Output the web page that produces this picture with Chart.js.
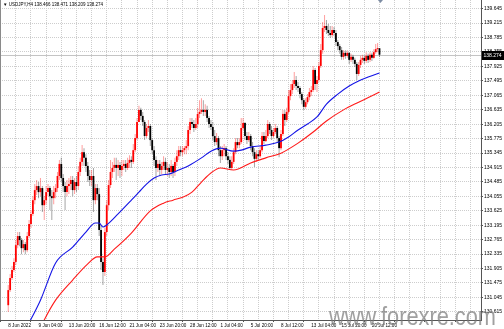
<!DOCTYPE html>
<html><head><meta charset="utf-8">
<script src="https://cdn.jsdelivr.net/npm/chart.js@4.4.0/dist/chart.umd.min.js"></script>
<style>html,body{margin:0;padding:0;background:#fff;overflow:hidden}#wrap{width:504px;height:329px;position:relative}</style>
</head><body><div id="wrap"><canvas id="c" width="504" height="329"></canvas></div>
<script>
// ---- data (USDJPY H4) ----
const symbol = 'USDJPY,H4';
const firstOpen = 130.81;
const close = [
131.26,131.62,131.86,132.10,132.60,132.87,132.75,132.51,132.63,132.45,
132.87,133.23,133.53,133.94,134.24,134.36,134.18,134.30,133.79,133.94,
134.18,134.30,134.06,134.00,134.18,134.30,134.66,135.02,134.60,134.36,
134.18,134.36,134.42,134.54,134.24,134.48,134.36,134.78,135.08,135.37,
135.20,134.96,134.66,134.54,134.66,133.94,134.30,134.12,133.05,132.10,
131.80,132.99,133.79,134.39,134.78,134.90,134.99,134.90,134.99,134.84,
134.96,135.02,134.90,135.05,135.14,135.08,135.43,135.79,136.27,136.63,
136.45,136.27,135.85,136.09,136.15,135.73,135.43,135.14,134.90,135.02,
134.84,134.96,135.08,134.84,134.90,134.78,134.96,134.78,135.08,135.25,
135.43,135.37,135.43,135.49,135.55,136.03,136.27,136.21,136.09,136.21,
136.51,136.57,136.63,136.57,136.63,136.39,136.21,136.12,135.85,135.67,
135.79,135.43,135.25,135.43,135.49,135.25,135.14,134.90,135.08,135.37,
135.67,135.58,135.67,136.09,136.24,135.85,135.73,135.85,135.55,135.37,
135.17,135.31,135.25,135.43,135.85,135.70,135.85,136.21,136.03,135.85,
135.97,136.09,135.79,135.49,135.91,136.51,136.33,136.57,137.04,137.22,
137.40,137.52,137.34,137.28,137.10,136.92,136.72,136.86,137.01,137.16,
137.22,137.82,137.40,137.52,137.94,138.41,139.07,139.13,139.01,138.92,
138.86,139.01,138.92,138.65,138.53,138.41,138.21,138.33,138.24,138.33,
138.12,138.21,138.12,138.00,137.70,137.97,138.12,138.18,138.09,138.24,
138.12,138.27,138.18,138.35,138.44,138.466,138.274];
const high = [
131.41,131.74,131.98,132.21,132.75,132.99,132.99,132.81,132.75,132.69,
132.99,133.35,133.65,134.06,134.42,134.54,134.48,134.60,134.36,134.06,
134.36,134.42,134.36,134.24,134.36,134.42,134.78,135.14,135.20,134.72,
134.48,134.54,134.60,134.66,134.66,134.60,134.66,134.96,135.20,135.58,
135.49,135.31,135.08,134.84,134.84,134.90,134.42,134.42,134.30,133.17,
132.21,133.11,133.94,134.54,135.14,135.08,135.20,135.20,135.14,135.08,
135.14,135.14,135.14,135.20,135.28,135.25,135.61,135.91,136.39,136.75,
136.69,136.57,136.33,136.21,136.33,136.21,135.79,135.55,135.25,135.14,
135.14,135.08,135.25,135.20,135.08,135.02,135.14,135.02,135.20,135.43,
135.55,135.55,135.55,135.55,135.73,136.15,136.39,136.39,136.33,136.39,
136.69,136.92,136.98,136.92,136.80,136.75,136.45,136.33,136.27,136.03,
135.94,135.85,135.55,135.55,135.61,135.55,135.37,135.25,135.25,135.49,
135.79,135.79,135.79,136.39,136.39,136.27,135.97,135.97,135.91,135.67,
135.49,135.43,135.43,135.55,135.97,135.97,136.03,136.33,136.27,136.15,
136.09,136.21,136.15,135.85,136.03,136.63,136.63,136.69,137.22,137.40,
137.52,137.76,137.64,137.46,137.34,137.16,136.98,136.98,137.10,137.28,
137.34,137.94,137.88,137.64,138.06,138.59,139.25,139.46,139.31,139.19,
139.13,139.13,139.10,139.01,138.71,138.59,138.50,138.41,138.41,138.41,
138.35,138.30,138.27,138.18,138.06,138.06,138.24,138.27,138.24,138.35,
138.30,138.35,138.33,138.44,138.59,138.62,138.471];
const low = [
130.61,131.20,131.56,131.80,132.01,132.51,132.57,132.33,132.39,132.33,
132.39,132.81,133.11,133.47,133.82,134.09,134.00,134.06,133.59,133.35,
133.82,134.06,133.65,133.35,133.82,134.00,134.18,134.54,134.48,134.18,
133.65,134.06,134.12,134.24,134.06,134.12,134.18,134.24,134.66,134.96,
134.96,134.78,134.48,134.36,134.36,133.59,133.82,133.94,132.87,131.86,
131.41,131.68,132.87,133.65,134.30,134.60,134.78,134.54,134.66,134.60,
134.66,134.84,134.78,134.84,134.90,134.90,135.02,135.37,135.73,136.27,
136.33,136.15,135.73,135.79,135.97,135.55,135.31,134.96,134.54,134.78,
134.66,134.72,134.84,134.72,134.66,134.60,134.66,134.60,134.66,134.96,
135.14,135.25,135.25,135.31,135.31,135.43,135.91,136.09,135.97,136.03,
136.09,136.39,136.51,136.45,136.45,136.27,136.09,136.03,135.73,135.55,
135.58,135.25,135.05,135.14,135.25,135.14,135.02,134.84,134.84,135.02,
135.31,135.49,135.49,135.61,136.03,135.73,135.61,135.67,135.43,135.25,
134.93,135.08,135.14,135.20,135.37,135.61,135.67,135.79,135.91,135.73,
135.79,135.91,135.67,135.22,135.43,135.85,136.15,136.27,136.51,136.92,
137.10,137.28,137.22,137.16,136.98,136.80,136.63,136.66,136.80,136.92,
137.04,137.16,137.22,137.16,137.46,137.88,138.30,138.95,138.89,138.83,
138.77,138.80,138.83,138.53,138.41,138.30,138.12,138.12,138.15,138.18,
138.00,138.06,138.00,137.91,137.52,137.64,137.88,138.03,138.00,138.03,
138.03,138.06,138.09,138.15,138.30,138.35,138.209];
// moving averages (bar index, value)
const maBlueBars = [9,17,25,34,41,46,48,50,52,58,65,69,73,77,81,85,90,95,102,107,112,119,123,128,136,143,148,153,158,163,168,174,180,185,196];
const maBlue = [130.07,130.96,132.07,132.54,132.99,133.26,133.26,133.14,133.20,133.53,133.94,134.18,134.42,134.60,134.69,134.72,134.84,134.96,135.20,135.40,135.49,135.40,135.43,135.52,135.58,135.67,135.82,136.03,136.21,136.42,136.80,137.10,137.34,137.49,137.73];
const maRedBars = [17,19,25,34,42,47,51,56,65,75,82,87,93,97,102,107,112,119,128,136,144,153,161,168,177,185,196];
const maRed = [130.13,130.37,130.96,131.56,132.04,132.25,132.25,132.48,132.96,133.62,133.85,133.94,134.05,134.18,134.48,134.75,134.90,134.84,135.05,135.20,135.34,135.64,135.97,136.30,136.63,136.86,137.16];
// axis labels
const xTickLabels = ['8 Jun 2022','9 Jun 04:00','13 Jun 20:00','16 Jun 12:00','21 Jun 04:00','23 Jun 20:00','28 Jun 12:00','1 Jul 04:00','5 Jul 20:00','8 Jul 12:00','13 Jul 04:00','15 Jul 20:00','20 Jul 12:00'];
const yTickLabels = ['130.615','131.045','131.475','131.905','132.335','132.765','133.195','133.625','134.055','134.485','134.915','135.345','135.775','136.205','136.635','137.065','137.495','137.925','138.355','138.785','139.215','139.645'];
const watermark = 'www.forexre.com';

// ---- build ----
const open = [firstOpen].concat(close.slice(0, -1));
const n = close.length;
const bodies = close.map((c, i) => ({x: i, y: [open[i], c]}));
const wicks = close.map((c, i) => ({x: i, y: [low[i], high[i]]}));
const bull = close.map((c, i) => c >= open[i]);
const FONT = '"Liberation Sans", Arial, sans-serif';
Chart.defaults.font.family = FONT;

const decor = {
  id: 'decor',
  beforeDraw(chart) {
    const ctx = chart.ctx;
    ctx.save(); ctx.fillStyle = '#fff'; ctx.fillRect(0, 0, chart.width, chart.height); ctx.restore();
  },
  beforeDatasetsDraw(chart) {
    const {ctx, chartArea: a, scales: {y}} = chart;
    const py = Math.round(y.getPixelForValue(close[n - 1])) + 0.5;
    ctx.save();
    ctx.strokeStyle = '#c4c4c4'; ctx.lineWidth = 1;
    ctx.beginPath(); ctx.moveTo(a.left, py); ctx.lineTo(a.right, py); ctx.stroke();
    ctx.strokeStyle = '#8a8a8a';
    ctx.beginPath(); ctx.moveTo(a.left + 0.5, a.top); ctx.lineTo(a.left + 0.5, a.bottom); ctx.stroke();
    ctx.restore();
  },
  afterDraw(chart) {
    const {ctx, chartArea: a, scales: {x, y}} = chart;
    ctx.save();
    // current price box
    const py = Math.round(y.getPixelForValue(close[n - 1]));
    ctx.fillStyle = '#000';
    ctx.fillRect(a.right + 1, py - 4, chart.width - a.right - 1, 9);
    ctx.fillStyle = '#fff'; ctx.font = '5px ' + FONT; ctx.textBaseline = 'middle'; ctx.textAlign = 'left';
    ctx.fillText(close[n - 1].toFixed(3), a.right + 2.5, py + 0.5);
    // title
    ctx.fillStyle = '#000'; ctx.font = '4.5px ' + FONT; ctx.textBaseline = 'middle';
    ctx.fillText('\u25BC ' + symbol + ' ' + open[n - 1].toFixed(3) + ' ' + high[n - 1].toFixed(3) + ' ' + low[n - 1].toFixed(3) + ' ' + close[n - 1].toFixed(3), 3, 5);
    // chart shift marker
    const sx = x.getPixelForValue(n - 0.5);
    ctx.fillStyle = '#7d8ca3';
    ctx.beginPath(); ctx.moveTo(sx - 2.5, 0); ctx.lineTo(sx + 2.5, 0); ctx.lineTo(sx, 3); ctx.closePath(); ctx.fill();
    // watermark
    ctx.font = '25px ' + FONT; ctx.textBaseline = 'alphabetic';
    const w = ctx.measureText(watermark).width;
    ctx.translate(329, 325); ctx.scale(167 / w, 1);
    ctx.fillStyle = 'rgba(120,120,120,0.7)';
    ctx.fillText(watermark, 0, 0);
    ctx.restore();
  }
};

new Chart(document.getElementById('c'), {
  type: 'bar',
  data: {
    datasets: [
      {type: 'line', data: maBlueBars.map((b, i) => ({x: b, y: maBlue[i]})), borderColor: '#1414e6', borderWidth: 1.1, pointRadius: 0, cubicInterpolationMode: 'monotone', order: 0},
      {type: 'line', data: maRedBars.map((b, i) => ({x: b, y: maRed[i]})), borderColor: '#ff1a1a', borderWidth: 1.1, pointRadius: 0, cubicInterpolationMode: 'monotone', order: 0},
      {type: 'bar', data: bodies, backgroundColor: bull.map(b => b ? '#ff0000' : '#000000'), barThickness: 1.8, grouped: false, minBarLength: 1, borderWidth: 0, inflateAmount: 0, order: 1},
      {type: 'bar', data: wicks, backgroundColor: bull.map(b => b ? 'rgba(255,40,40,0.45)' : 'rgba(40,40,40,0.42)'), barThickness: 1, grouped: false, borderWidth: 0, inflateAmount: 0, order: 2}
    ]
  },
  options: {
    responsive: false, animation: false, devicePixelRatio: 1,
    layout: {padding: 0},
    plugins: {legend: {display: false}, tooltip: {enabled: false}, title: {display: false}},
    events: [],
    scales: {
      x: {
        type: 'linear', position: 'bottom', min: -0.26, max: 245.5, bounds: 'data',
        afterBuildTicks: s => { const t = []; for (let v = 0; v <= 240; v += 8) t.push({value: v}); s.ticks = t; },
        afterFit: s => { s.height = 9; s.paddingLeft = 0; s.paddingRight = 0; },
        ticks: {autoSkip: false, maxRotation: 0, minRotation: 0, align: 'start', padding: 1, color: '#000', font: {size: 4.6},
          callback: v => (v % 16 === 0 && xTickLabels[v / 16]) ? xTickLabels[v / 16] : ''},
        grid: {color: '#cdcdcd', lineWidth: 1, drawTicks: true, tickLength: 2,
          tickColor: c => (c.tick && c.tick.value % 16 === 0) ? '#555' : 'rgba(0,0,0,0)', tickBorderDash: []},
        border: {display: true, color: '#555', width: 1, dash: [1, 1]}
      },
      y: {
        type: 'linear', position: 'right', min: 130.369, max: 139.904, bounds: 'data',
        afterBuildTicks: s => { s.ticks = yTickLabels.map(t => ({value: parseFloat(t)})); },
        afterFit: s => { s.width = 23; s.paddingTop = 0; s.paddingBottom = 0; },
        ticks: {padding: 1, color: '#000', font: {size: 5}, callback: (v, i) => yTickLabels[i]},
        grid: {color: '#cdcdcd', lineWidth: 1, drawTicks: true, tickLength: 2, tickColor: '#555', tickBorderDash: []},
        border: {display: true, color: '#555', width: 1, dash: [1, 1]}
      }
    }
  },
  plugins: [decor]
});
</script>
</body></html>
